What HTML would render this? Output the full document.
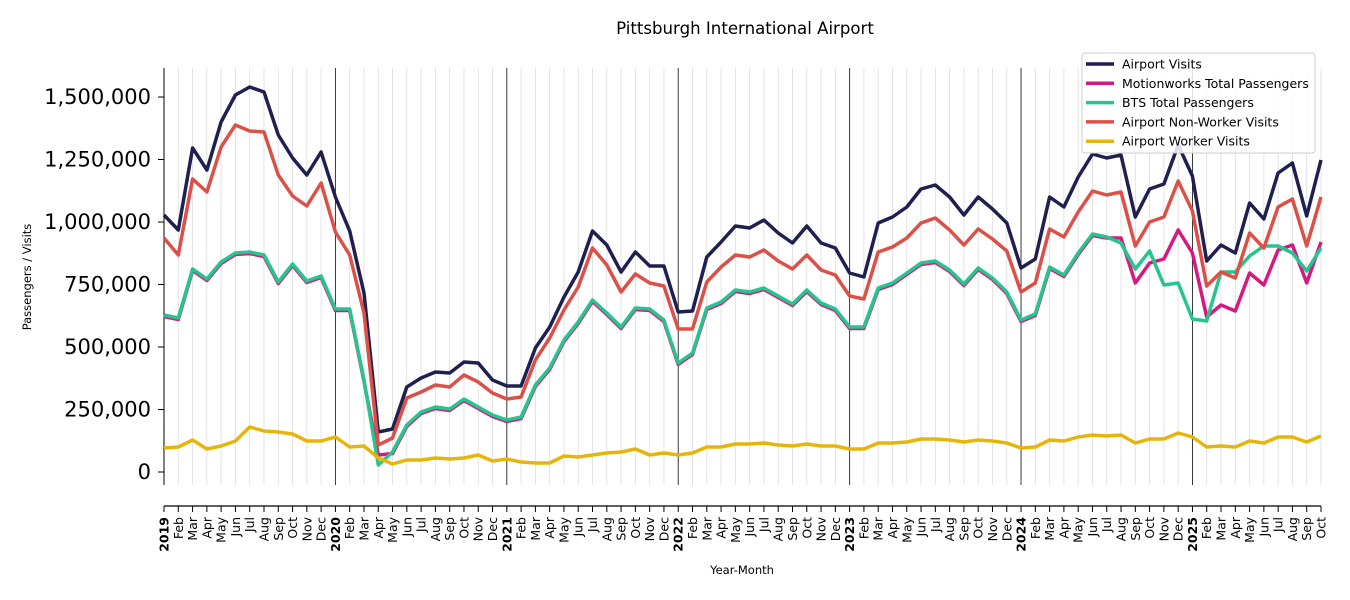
<!DOCTYPE html>
<html><head><meta charset="utf-8">
<style>
html,body{margin:0;padding:0;background:#fff;}
svg{display:block;font-family:"DejaVu Sans","Liberation Sans",sans-serif;}
</style></head>
<body>
<svg id="c" width="1350" height="600" xmlns="http://www.w3.org/2000/svg"></svg>
<script>
const S=document.getElementById('c');
let h='';
const x0=164,dx=1157/81;
const X=i=>x0+i*dx;
h+='<text x="745" y="34" text-anchor="middle" font-size="16.6" fill="#000">Pittsburgh International Airport</text>';
for(let i=0;i<82;i++){
  if(i%12===0&&i>0){h+=`<line x1="${X(i)}" y1="68" x2="${X(i)}" y2="485" stroke="#222" stroke-width="0.9"/>`;}
  else if(i>0){h+=`<line x1="${X(i)}" y1="68" x2="${X(i)}" y2="485" stroke="#e0e0e0" stroke-width="0.9"/>`;}
}
h+='<line x1="164" y1="68" x2="164" y2="485" stroke="#000" stroke-width="1"/>';
const yt=[[0,"0"],[250,"250,000"],[500,"500,000"],[750,"750,000"],[1000,"1,000,000"],[1250,"1,250,000"],[1500,"1,500,000"]];
yt.forEach(([v,l])=>{const y=472-v*0.25;h+=`<line x1="158" y1="${y}" x2="164" y2="${y}" stroke="#000"/><text x="151" y="${y+7}" text-anchor="end" font-size="21">${l}</text>`;});
h+='<text transform="translate(31,277) rotate(-90)" text-anchor="middle" font-size="11.5">Passengers / Visits</text>';
h+='<line x1="164" y1="506" x2="1321" y2="506" stroke="#000" stroke-width="1.2"/>';
const mn=["Jan","Feb","Mar","Apr","May","Jun","Jul","Aug","Sep","Oct","Nov","Dec"];
for(let i=0;i<82;i++){
  const x=X(i);h+=`<line x1="${x}" y1="506" x2="${x}" y2="512" stroke="#000"/>`;
  const m=i%12;const lab=m===0?(2019+i/12):mn[m];
  h+=`<text transform="translate(${x+4.5},517) rotate(-90)" text-anchor="end" font-size="12.5" ${m===0?'font-weight="bold"':''}>${lab}</text>`;
}
h+='<text x="742" y="574" text-anchor="middle" font-size="11.5">Year-Month</text>';
const av=[215,230,148,170,122,95,87,92,135,158,175,152,197,231,293,432,429,387,378,372,373,362,363,380,386,386,348,327,297,272,231,245,272,252,266,266,312,311,257,242,226,228,220,233,243,226,243,248,273,277,223,217,207,189,185,197,215,197,209,223,268,259,197,207,177,154,158,155,217,189,184,145,176,261,245,253,203,219,173,163,216,160];
const nw=[238,255,179,192,147,125,131,132,175,196,206,183,232,255,313,445,438,398,392,385,387,375,382,393,399,397,360,338,310,287,248,265,292,274,283,286,329,329,282,267,255,257,250,261,269,255,270,275,296,299,252,247,238,223,218,230,245,229,239,251,292,283,229,237,212,191,195,192,246,222,217,181,211,286,272,278,233,248,207,199,246,197];
const gr=[315,318,269,279,262,253,252,255,282,264,281,276,309,309,380,465,452,425,412,407,409,399,407,415,420,417,385,368,340,322,300,313,327,308,309,320,363,353,308,302,290,292,288,296,304,290,303,309,327,327,288,283,273,263,261,270,284,268,278,292,320,314,267,275,253,234,237,243,269,251,285,283,319,321,272,272,256,246,246,253,271,248];
const pk=gr.slice();for(let i=0;i<66;i++)pk[i]=gr[i]+1.5;pk[15]=455;pk[66]=238;pk[67]=238;
[283,263,259,230,253,317,305,311,273,285,250,245,283,242].forEach((v,j)=>pk[68+j]=v);
const wk=[448,447,440,449,446,441,427,431,432,434,441,441,437,447,446,458,464,460,460,458,459,458,455,461,459,462,463,463,456,457,455,453,452,449,455,453,455,453,447,447,444,444,443,445,446,444,446,446,449,449,443,443,442,439,439,440,442,440,441,443,448,447,440,441,437,435,436,435,443,439,439,433,437,447,446,447,441,443,437,437,442,436];
const P=(a,c)=>`<polyline fill="none" stroke="${c}" stroke-width="3.5" stroke-linejoin="round" points="${a.map((y,i)=>X(i).toFixed(1)+','+y).join(' ')}"/>`;
h+=P(av,'#1f2050')+P(pk,'#d6197f')+P(gr,'#26c48f')+P(nw,'#db5047')+P(wk,'#e6b50c');
h+='<rect x="1082" y="53" width="233" height="100" rx="3" fill="#fff" fill-opacity="0.85" stroke="#ccc"/>';
[['Airport Visits','#1f2050'],['Motionworks Total Passengers','#d6197f'],['BTS Total Passengers','#26c48f'],['Airport Non-Worker Visits','#db5047'],['Airport Worker Visits','#e6b50c']].forEach(([t,c],k)=>{
  const y=64+k*19.3;
  h+=`<line x1="1086" y1="${y}" x2="1114" y2="${y}" stroke="${c}" stroke-width="3.5"/><text x="1122" y="${y+4.5}" font-size="12.5">${t}</text>`;
});
S.innerHTML=h;
</script>
</body></html>
